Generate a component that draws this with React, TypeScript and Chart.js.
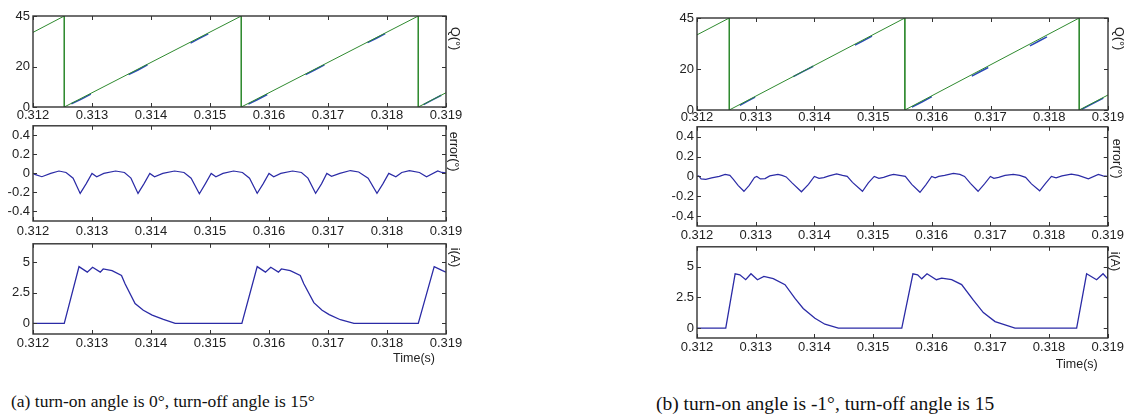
import React, { useEffect, useRef } from "react";
import { Chart, registerables } from "chart.js";

Chart.register(...registerables);

// ---------------- tick labels ----------------
const timeTicks = [0.312, 0.313, 0.314, 0.315, 0.316, 0.317, 0.318, 0.319];
const angleTicks = [0, 20, 45];
const errorTicks = [-0.4, -0.2, 0, 0.2, 0.4];
const currentTicks = [0, 2.5, 5];

// ---------------- panel (a) ----------------
const angleRefTimeA = [0.312, 0.31253, 0.31253, 0.31553, 0.31553, 0.31853, 0.31853, 0.319];
const angleRefA = [36.9, 45, 0, 45, 0, 45, 0, 7.05];
const angleEstTimeA = [
  0.31265, 0.31282, 0.31298, 0.3133,
  0.31362, 0.31378, 0.31394, 0.3143,
  0.31467, 0.31482, 0.31497, 0.3153,
  0.31565, 0.3158, 0.31597, 0.3163,
  0.31662, 0.31678, 0.31694, 0.3173,
  0.31767, 0.31782, 0.31797, 0.3183,
  0.31862, 0.31877, 0.31892,
];
const angleEstA = [
  1.6, 3.9, 6.4, null,
  16.0, 18.3, 20.9, null,
  31.6, 33.9, 36.2, null,
  1.4, 3.6, 6.2, null,
  16.0, 18.4, 20.8, null,
  31.8, 34.0, 36.3, null,
  1.2, 3.5, 5.8,
];
const errorTimeA = [
  0.312, 0.31203, 0.31215, 0.3123, 0.31244, 0.31256, 0.31268, 0.3128, 0.3129,
  0.313, 0.31308, 0.3132, 0.3134, 0.31355, 0.31366, 0.31378, 0.31388,
  0.31398, 0.31406, 0.3142, 0.3144, 0.31456, 0.31468, 0.31482, 0.31492,
  0.31502, 0.3151, 0.31522, 0.3154, 0.31555, 0.31567, 0.3158, 0.3159,
  0.316, 0.31608, 0.3162, 0.3164, 0.31655, 0.31666, 0.31679, 0.31689,
  0.31698, 0.31706, 0.3172, 0.31738, 0.31752, 0.31768, 0.31783, 0.31793,
  0.31803, 0.31815, 0.31825, 0.31838, 0.31855, 0.31867, 0.31886, 0.31893, 0.319,
];
const errorA = [
  0.0, -0.01, -0.035, 0.0, 0.025, 0.01, -0.05, -0.21, -0.11,
  0.0, -0.035, 0.0, 0.025, 0.01, -0.05, -0.21, -0.11,
  0.0, -0.035, 0.0, 0.025, 0.01, -0.05, -0.215, -0.11,
  0.0, -0.035, 0.0, 0.025, 0.01, -0.05, -0.21, -0.11,
  0.0, -0.035, 0.0, 0.025, 0.01, -0.05, -0.21, -0.11,
  0.0, -0.03, 0.0, 0.03, 0.015, -0.05, -0.21, -0.11,
  0.0, -0.035, 0.01, 0.03, 0.01, -0.035, 0.025, 0.01, 0.005,
];
const currentTimeA = [
  0.312, 0.31253, 0.31278, 0.31292, 0.31301, 0.31314, 0.31319, 0.31334, 0.3135,
  0.31356, 0.31373, 0.31387, 0.31402, 0.31421, 0.31441,
  0.31554, 0.3158, 0.31594, 0.31603, 0.31616, 0.31621, 0.31636, 0.31653,
  0.31659, 0.31676, 0.31690, 0.31702, 0.31721, 0.31744,
  0.31853, 0.3188, 0.31894, 0.319,
];
const currentA = [
  0, 0, 4.65, 4.2, 4.6, 4.2, 4.46, 4.32, 3.92,
  3.24, 1.62, 1.08, 0.68, 0.32, 0,
  0, 4.65, 4.2, 4.6, 4.2, 4.46, 4.32, 3.92,
  3.24, 1.7, 1.08, 0.72, 0.3, 0,
  0, 4.65, 4.32, 4.19,
];

// ---------------- panel (b) ----------------
const angleRefTimeB = [0.312, 0.31255, 0.31255, 0.31554, 0.31554, 0.31851, 0.31851, 0.319];
const angleRefB = [36.75, 45, 0, 45, 0, 45, 0, 7.35];
const angleEstTimeB = [
  0.31273, 0.31286, 0.31299, 0.3133,
  0.31364, 0.31381, 0.31398, 0.3143,
  0.31469, 0.31483, 0.31498, 0.3153,
  0.31566, 0.31583, 0.316, 0.3163,
  0.31668, 0.31682, 0.31696, 0.3173,
  0.31767, 0.31781, 0.31796, 0.3182,
  0.31855, 0.31873, 0.31892,
];
const angleEstB = [
  2.3, 4.3, 6.3, null,
  16.3, 18.9, 21.4, null,
  31.7, 33.8, 36.1, null,
  1.4, 3.9, 6.5, null,
  16.6, 18.7, 20.8, null,
  31.4, 33.5, 35.8, null,
  0.3, 3.0, 5.8,
];
const errorTimeB = [
  0.312, 0.31203, 0.31207, 0.31215, 0.31225, 0.31238, 0.31248, 0.31256, 0.31262,
  0.3127, 0.3128, 0.31289, 0.31298, 0.31302, 0.31308, 0.31316, 0.31324, 0.31338,
  0.31345, 0.31352, 0.31362, 0.31378, 0.3139, 0.314, 0.31408, 0.31416, 0.31425,
  0.31438, 0.31448, 0.31456, 0.31465, 0.31482, 0.31492, 0.31502, 0.3151, 0.31518,
  0.31528, 0.31535, 0.31545, 0.31555, 0.31566, 0.3158, 0.3159, 0.316, 0.31606,
  0.31612, 0.31622, 0.31637, 0.31648, 0.31656, 0.31666, 0.31679, 0.3169, 0.317,
  0.31706, 0.31714, 0.31725, 0.31739, 0.3175, 0.3176, 0.3177, 0.31784, 0.31794,
  0.31804, 0.31812, 0.31822, 0.31838, 0.3185, 0.31867, 0.31884, 0.31892, 0.319,
];
const errorB = [
  0.0, 0.005, -0.025, -0.03, -0.015, 0.0, 0.02, 0.01, -0.03,
  -0.09, -0.15, -0.09, -0.01, 0.0, -0.025, -0.022, 0.005, 0.02,
  0.01, -0.005, -0.065, -0.155, -0.08, 0.0, -0.02, -0.012, 0.005,
  0.025, 0.01, 0.0, -0.06, -0.15, -0.065, 0.0, -0.02, -0.01,
  0.01, 0.02, 0.01, 0.0, -0.08, -0.16, -0.085, 0.0, -0.015,
  0.0, 0.01, 0.03, 0.02, 0.0, -0.07, -0.15, -0.075, 0.0,
  -0.02, -0.01, 0.01, 0.02, 0.01, -0.01, -0.075, -0.145, -0.07,
  0.0, -0.015, 0.005, 0.022, 0.01, -0.025, 0.02, 0.005, 0.0,
];
const currentTimeB = [
  0.312, 0.31249, 0.31265, 0.31273, 0.31283, 0.31292, 0.31303, 0.31314, 0.3133,
  0.3135, 0.31367, 0.31381, 0.31401, 0.31418, 0.31441,
  0.31549, 0.31568, 0.31576, 0.31583, 0.31592, 0.31608, 0.31617, 0.31634,
  0.31651, 0.31671, 0.31688, 0.31708, 0.31742,
  0.31847, 0.31864, 0.31881, 0.31892, 0.319,
];
const currentB = [
  0, 0, 4.41, 4.33, 3.93, 4.41, 3.93, 4.2, 4.01,
  3.53, 2.41, 1.6, 0.8, 0.32, 0,
  0, 4.41, 4.33, 4.0, 4.41, 3.93, 4.06, 3.93,
  3.53, 2.27, 1.26, 0.53, 0,
  0, 4.41, 3.93, 4.41, 4.0,
];

// ---------------- styling ----------------
const REF_GREEN = "#2f8a2f";
const EST_BLUE = "#2a48b8";
const TRACE_BLUE = "#2b2ba6";
const TEXT = "#222";
const AXIS_FONT = '"Liberation Sans", Arial, sans-serif';

const pairs = (t: number[], v: (number | null)[]) => t.map((x, i) => ({ x, y: v[i] }));

const matlabAxes = {
  id: "matlabAxes",
  afterDraw(chart: any, _args: any, opts: any) {
    const { ctx, chartArea } = chart;
    const { left, right, top, bottom } = chartArea;
    const xs = chart.scales.x;
    const ys = chart.scales.y;
    const tl = 4;
    ctx.save();
    ctx.strokeStyle = "#333";
    ctx.lineWidth = 1;
    ctx.beginPath();
    xs.ticks.forEach((t: any) => {
      const p = Math.round(xs.getPixelForValue(t.value)) + 0.5;
      ctx.moveTo(p, bottom);
      ctx.lineTo(p, bottom - tl);
      ctx.moveTo(p, top);
      ctx.lineTo(p, top + tl);
    });
    ys.ticks.forEach((t: any) => {
      const p = Math.round(ys.getPixelForValue(t.value)) + 0.5;
      ctx.moveTo(left, p);
      ctx.lineTo(left + tl, p);
      ctx.moveTo(right, p);
      ctx.lineTo(right - tl, p);
    });
    ctx.stroke();
    ctx.lineWidth = 1.4;
    ctx.strokeRect(left, top, right - left, bottom - top);
    ctx.fillStyle = TEXT;
    ctx.font = `12.5px ${AXIS_FONT}`;
    if (opts.sideLabel) {
      ctx.save();
      ctx.translate(right + opts.sideDx, top + opts.sideDy);
      ctx.rotate(Math.PI / 2);
      ctx.textAlign = "left";
      ctx.textBaseline = "middle";
      ctx.fillText(opts.sideLabel, 0, 0);
      ctx.restore();
    }
    if (opts.xTitle) {
      ctx.textAlign = "right";
      ctx.textBaseline = "middle";
      ctx.fillText(opts.xTitle, right + opts.xTitleDx, bottom + opts.xTitleDy);
    }
    ctx.restore();
  },
};

type Series = { t: number[]; v: (number | null)[]; color: string; width: number };
type Sub = {
  key: string;
  L: number; R: number; T: number; B: number;
  padL: number; padR: number; padT: number; padB: number;
  yMin: number; yMax: number; yTicks: number[];
  xPad: number;
  series: Series[];
  sideLabel: string; sideDx: number; sideDy: number;
  xTitle?: string; xTitleDx?: number; xTitleDy?: number;
};

const subplots: Sub[] = [
  {
    key: "aQ", L: 33, R: 446, T: 16, B: 107, padL: 33, padR: 30, padT: 16, padB: 18,
    yMin: 0, yMax: 45, yTicks: angleTicks, xPad: 1,
    series: [
      { t: angleRefTimeA, v: angleRefA, color: REF_GREEN, width: 1 },
      { t: angleEstTimeA, v: angleEstA, color: EST_BLUE, width: 1.5 },
    ],
    sideLabel: "Q(°)", sideDx: 8, sideDy: 11,
  },
  {
    key: "aE", L: 33, R: 446, T: 125, B: 221, padL: 33, padR: 30, padT: 10, padB: 18,
    yMin: -0.5, yMax: 0.5, yTicks: errorTicks, xPad: 3,
    series: [{ t: errorTimeA, v: errorA, color: TRACE_BLUE, width: 1.2 }],
    sideLabel: "error(°)", sideDx: 7, sideDy: 6,
  },
  {
    key: "aI", L: 33, R: 446, T: 243, B: 334, padL: 33, padR: 30, padT: 10, padB: 40,
    yMin: -0.87, yMax: 6.52, yTicks: currentTicks, xPad: 2,
    series: [{ t: currentTimeA, v: currentA, color: TRACE_BLUE, width: 1.3 }],
    sideLabel: "i(A)", sideDx: 8, sideDy: 4,
    xTitle: "Time(s)", xTitleDx: -11, xTitleDy: 25,
  },
  {
    key: "bQ", L: 697, R: 1108, T: 18, B: 110, padL: 40, padR: 18, padT: 18, padB: 18,
    yMin: 0, yMax: 45, yTicks: angleTicks, xPad: 0,
    series: [
      { t: angleRefTimeB, v: angleRefB, color: REF_GREEN, width: 1 },
      { t: angleEstTimeB, v: angleEstB, color: EST_BLUE, width: 1.5 },
    ],
    sideLabel: "Q(°)", sideDx: 10, sideDy: 9,
  },
  {
    key: "bE", L: 697, R: 1108, T: 126, B: 226, padL: 40, padR: 18, padT: 10, padB: 18,
    yMin: -0.5, yMax: 0.5, yTicks: errorTicks, xPad: 2,
    series: [{ t: errorTimeB, v: errorB, color: TRACE_BLUE, width: 1.2 }],
    sideLabel: "error(°)", sideDx: 9, sideDy: 12,
  },
  {
    key: "bI", L: 697, R: 1108, T: 246, B: 338, padL: 40, padR: 18, padT: 10, padB: 40,
    yMin: -0.8, yMax: 6.6, yTicks: currentTicks, xPad: 2,
    series: [{ t: currentTimeB, v: currentB, color: TRACE_BLUE, width: 1.3 }],
    sideLabel: "i(A)", sideDx: 7, sideDy: 5,
    xTitle: "Time(s)", xTitleDx: -10, xTitleDy: 27,
  },
];

function SubplotCanvas({ sub }: { sub: Sub }) {
  const ref = useRef<HTMLCanvasElement | null>(null);
  const width = sub.padL + (sub.R - sub.L) + sub.padR;
  const height = sub.padT + (sub.B - sub.T) + sub.padB;

  useEffect(() => {
    if (!ref.current) return;
    const font = { family: AXIS_FONT, size: 13 };
    const chart = new Chart(ref.current, {
      type: "line",
      data: {
        datasets: sub.series.map((s) => ({
          data: pairs(s.t, s.v),
          borderColor: s.color,
          borderWidth: s.width,
          pointRadius: 0,
          tension: 0,
          fill: false,
          spanGaps: false,
        })),
      },
      options: {
        animation: false,
        responsive: false,
        maintainAspectRatio: false,
        events: [],
        layout: { padding: { left: 0, right: sub.padR, top: sub.padT, bottom: 0 } },
        plugins: {
          legend: { display: false },
          tooltip: { enabled: false },
          matlabAxes: {
            sideLabel: sub.sideLabel,
            sideDx: sub.sideDx,
            sideDy: sub.sideDy,
            xTitle: sub.xTitle,
            xTitleDx: sub.xTitleDx,
            xTitleDy: sub.xTitleDy,
          },
        } as any,
        scales: {
          x: {
            type: "linear",
            min: 0.312,
            max: 0.319,
            afterBuildTicks: (s: any) => {
              s.ticks = timeTicks.map((v) => ({ value: v }));
            },
            afterFit: (s: any) => {
              s.height = sub.padB;
            },
            grid: { display: false, drawTicks: false },
            border: { display: false },
            ticks: {
              autoSkip: false,
              maxRotation: 0,
              minRotation: 0,
              padding: sub.xPad,
              color: TEXT,
              font,
              callback: (v: any) => Number(v).toFixed(3),
            },
          },
          y: {
            type: "linear",
            min: sub.yMin,
            max: sub.yMax,
            afterBuildTicks: (s: any) => {
              s.ticks = sub.yTicks.map((v) => ({ value: v }));
            },
            afterFit: (s: any) => {
              s.width = sub.padL;
            },
            grid: { display: false, drawTicks: false },
            border: { display: false },
            ticks: {
              padding: 3,
              color: TEXT,
              font,
              callback: (v: any) => String(v),
            },
          },
        },
      },
      plugins: [matlabAxes as any],
    } as any);
    return () => chart.destroy();
  }, [sub]);

  return (
    <canvas
      ref={ref}
      width={width}
      height={height}
      style={{
        position: "absolute",
        left: sub.L - sub.padL,
        top: sub.T - sub.padT,
        width,
        height,
      }}
    />
  );
}

const captionA = "(a) turn-on angle is 0°, turn-off angle is 15°";
const captionB = "(b) turn-on angle is -1°, turn-off angle is 15";

export default function App() {
  const capStyle: React.CSSProperties = {
    position: "absolute",
    fontFamily: '"Liberation Serif", "Times New Roman", serif',
    color: "#111",
    whiteSpace: "nowrap",
  };
  return (
    <div
      style={{
        position: "absolute",
        left: 0,
        top: 0,
        width: 1126,
        height: 418,
        background: "#fff",
        overflow: "hidden",
      }}
    >
      {subplots.map((s) => (
        <SubplotCanvas key={s.key} sub={s} />
      ))}
      <div style={{ ...capStyle, left: 11, top: 391, fontSize: 17.5, lineHeight: "20px" }}>{captionA}</div>
      <div style={{ ...capStyle, left: 656, top: 393, fontSize: 19.5, lineHeight: "22px" }}>{captionB}</div>
    </div>
  );
}
